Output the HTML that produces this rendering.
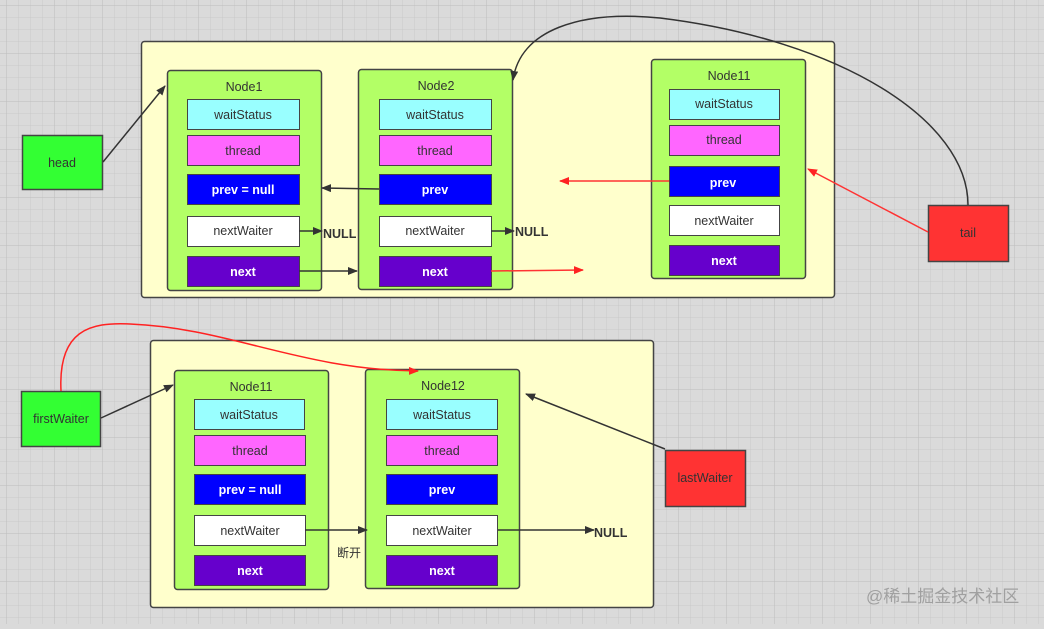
<!DOCTYPE html>
<html><head><meta charset="utf-8"><style>
html,body{margin:0;padding:0;}
body{width:1044px;height:624px;overflow:hidden;background:#dadada;}
svg text{font-family:"Liberation Sans","Noto Sans CJK SC",sans-serif;}
</style></head><body>
<svg width="1044" height="624" viewBox="0 0 1044 624" xmlns="http://www.w3.org/2000/svg">
<defs>
<pattern id="g" x="6" y="5" width="12" height="12" patternUnits="userSpaceOnUse">
<path d="M0 0H12M0 0V12" stroke="#c9c9c9" stroke-width="1" fill="none"/>
</pattern>
<pattern id="G" x="6" y="5" width="48" height="48" patternUnits="userSpaceOnUse">
<path d="M0 0H48M0 0V48" stroke="#bcbcbc" stroke-width="1" fill="none"/>
</pattern>
<marker id="ab" markerWidth="10" markerHeight="8" refX="9" refY="4" orient="auto" markerUnits="userSpaceOnUse"><path d="M0,0 L10,4 L0,8 Z" fill="#333"/></marker>
<marker id="ar" markerWidth="10" markerHeight="8" refX="9" refY="4" orient="auto" markerUnits="userSpaceOnUse"><path d="M0,0 L10,4 L0,8 Z" fill="#f22"/></marker>
</defs>
<rect width="1044" height="624" fill="#dadada"/>
<rect width="1044" height="624" fill="url(#g)"/>
<rect width="1044" height="624" fill="url(#G)"/>

<rect x="141.5" y="41.5" width="693" height="256" rx="3" fill="#ffffcc" stroke="#444" stroke-width="1.5"/>
<rect x="150.5" y="340.5" width="503" height="267" rx="3" fill="#ffffcc" stroke="#444" stroke-width="1.5"/>

<g font-size="12.5" text-anchor="middle">
<rect x="167.5" y="70.5" width="154" height="220" rx="3" fill="#b3ff66" stroke="#444" stroke-width="1.5"/>
<text x="244" y="91" fill="#333">Node1</text>
<rect x="187.5" y="99.5" width="112" height="30" fill="#99ffff" stroke="#444"/><text x="243" y="119" fill="#333">waitStatus</text>
<rect x="187.5" y="135.5" width="112" height="30" fill="#ff66ff" stroke="#444"/><text x="243" y="155" fill="#333">thread</text>
<rect x="187.5" y="174.5" width="112" height="30" fill="#0000ff" stroke="#444"/><text x="243" y="194" fill="#fff" font-weight="bold">prev = null</text>
<rect x="187.5" y="216.5" width="112" height="30" fill="#ffffff" stroke="#444"/><text x="243" y="235" fill="#333">nextWaiter</text>
<rect x="187.5" y="256.5" width="112" height="30" fill="#6600cc" stroke="#444"/><text x="243" y="276" fill="#fff" font-weight="bold">next</text>

<rect x="358.5" y="69.5" width="154" height="220" rx="3" fill="#b3ff66" stroke="#444" stroke-width="1.5"/>
<text x="436" y="90" fill="#333">Node2</text>
<rect x="379.5" y="99.5" width="112" height="30" fill="#99ffff" stroke="#444"/><text x="435" y="119" fill="#333">waitStatus</text>
<rect x="379.5" y="135.5" width="112" height="30" fill="#ff66ff" stroke="#444"/><text x="435" y="155" fill="#333">thread</text>
<rect x="379.5" y="174.5" width="112" height="30" fill="#0000ff" stroke="#444"/><text x="435" y="194" fill="#fff" font-weight="bold">prev</text>
<rect x="379.5" y="216.5" width="112" height="30" fill="#ffffff" stroke="#444"/><text x="435" y="235" fill="#333">nextWaiter</text>
<rect x="379.5" y="256.5" width="112" height="30" fill="#6600cc" stroke="#444"/><text x="435" y="276" fill="#fff" font-weight="bold">next</text>

<rect x="651.5" y="59.5" width="154" height="219" rx="3" fill="#b3ff66" stroke="#444" stroke-width="1.5"/>
<text x="729" y="80" fill="#333">Node11</text>
<rect x="669.5" y="89.5" width="110" height="30" fill="#99ffff" stroke="#444"/><text x="724" y="108" fill="#333">waitStatus</text>
<rect x="669.5" y="125.5" width="110" height="30" fill="#ff66ff" stroke="#444"/><text x="724" y="144" fill="#333">thread</text>
<rect x="669.5" y="166.5" width="110" height="30" fill="#0000ff" stroke="#444"/><text x="723" y="187" fill="#fff" font-weight="bold">prev</text>
<rect x="669.5" y="205.5" width="110" height="30" fill="#ffffff" stroke="#444"/><text x="724" y="225" fill="#333">nextWaiter</text>
<rect x="669.5" y="245.5" width="110" height="30" fill="#6600cc" stroke="#444"/><text x="724" y="265" fill="#fff" font-weight="bold">next</text>

<rect x="174.5" y="370.5" width="154" height="219" rx="3" fill="#b3ff66" stroke="#444" stroke-width="1.5"/>
<text x="251" y="391" fill="#333">Node11</text>
<rect x="194.5" y="399.5" width="110" height="30" fill="#99ffff" stroke="#444"/><text x="249" y="419" fill="#333">waitStatus</text>
<rect x="194.5" y="435.5" width="111" height="30" fill="#ff66ff" stroke="#444"/><text x="250" y="455" fill="#333">thread</text>
<rect x="194.5" y="474.5" width="111" height="30" fill="#0000ff" stroke="#444"/><text x="250" y="494" fill="#fff" font-weight="bold">prev = null</text>
<rect x="194.5" y="515.5" width="111" height="30" fill="#ffffff" stroke="#444"/><text x="250" y="535" fill="#333">nextWaiter</text>
<rect x="194.5" y="555.5" width="111" height="30" fill="#6600cc" stroke="#444"/><text x="250" y="575" fill="#fff" font-weight="bold">next</text>

<rect x="365.5" y="369.5" width="154" height="219" rx="3" fill="#b3ff66" stroke="#444" stroke-width="1.5"/>
<text x="443" y="390" fill="#333">Node12</text>
<rect x="386.5" y="399.5" width="111" height="30" fill="#99ffff" stroke="#444"/><text x="442" y="419" fill="#333">waitStatus</text>
<rect x="386.5" y="435.5" width="111" height="30" fill="#ff66ff" stroke="#444"/><text x="442" y="455" fill="#333">thread</text>
<rect x="386.5" y="474.5" width="111" height="30" fill="#0000ff" stroke="#444"/><text x="442" y="494" fill="#fff" font-weight="bold">prev</text>
<rect x="386.5" y="515.5" width="111" height="30" fill="#ffffff" stroke="#444"/><text x="442" y="535" fill="#333">nextWaiter</text>
<rect x="386.5" y="555.5" width="111" height="30" fill="#6600cc" stroke="#444"/><text x="442" y="575" fill="#fff" font-weight="bold">next</text>

<rect x="22.5" y="135.5" width="80" height="54" fill="#33ff33" stroke="#444" stroke-width="1.5"/><text x="62" y="167" fill="#333">head</text>
<rect x="928.5" y="205.5" width="80" height="56" fill="#ff3333" stroke="#444" stroke-width="1.5"/><text x="968" y="237" fill="#333">tail</text>
<rect x="21.5" y="391.5" width="79" height="55" fill="#33ff33" stroke="#444" stroke-width="1.5"/><text x="61" y="423" fill="#333">firstWaiter</text>
<rect x="665.5" y="450.5" width="80" height="56" fill="#ff3333" stroke="#444" stroke-width="1.5"/><text x="705" y="482" fill="#333">lastWaiter</text>
</g>

<g fill="none" stroke-width="1.5">
<path d="M103,162 L165,86" stroke="#333" marker-end="url(#ab)"/>
<path d="M379,189 L322,188" stroke="#333" marker-end="url(#ab)"/>
<path d="M299,231 L322,231" stroke="#333" marker-end="url(#ab)"/>
<path d="M491,231 L514,231" stroke="#333" marker-end="url(#ab)"/>
<path d="M299,271 L357,271" stroke="#333" marker-end="url(#ab)"/>
<path d="M491,271 L583,270" stroke="#f33" marker-end="url(#ar)"/>
<path d="M669,181 L560,181" stroke="#f33" marker-end="url(#ar)"/>
<path d="M928,232 L808,169" stroke="#f33" marker-end="url(#ar)"/>
<path d="M968,205 C968,120 840,40 660,18 C580,10 520,30 513,80" stroke="#333" marker-end="url(#ab)"/>
<path d="M101,418 L173,385" stroke="#333" marker-end="url(#ab)"/>
<path d="M305,530 L367,530" stroke="#333" marker-end="url(#ab)"/>
<path d="M498,530 L594,530" stroke="#333" marker-end="url(#ab)"/>
<path d="M665,449 L526,394" stroke="#333" marker-end="url(#ab)"/>
<path d="M61,391 C58,330 90,322 130,324 C230,328 300,370 418,371" stroke="#f22" marker-end="url(#ar)"/>
</g>
<g font-weight="bold" font-size="12.5" fill="#333">
<text x="323" y="238">NULL</text>
<text x="515" y="236">NULL</text>
<text x="594" y="537">NULL</text>
</g>
<text x="337" y="557" font-size="12" fill="#333">断开</text>
<text x="866" y="602" font-size="17" fill="#a0a0a0">@稀土掘金技术社区</text>
</svg>
</body></html>
